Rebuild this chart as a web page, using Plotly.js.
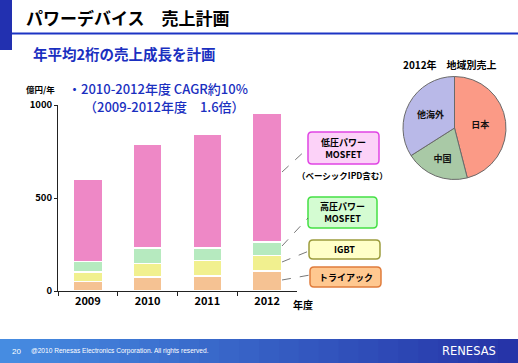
<!DOCTYPE html>
<html><head><meta charset="utf-8">
<script src="https://cdn.plot.ly/plotly-3.0.1.min.js"></script>
<style>html,body{margin:0;padding:0;background:#fff}#c{width:518px;height:363px}</style>
</head><body><div id="c"></div>
<script>
const years = ['2009', '2010', '2011', '2012'];
const triac = [50, 76, 81, 108];
const igbt = [53, 72, 83, 83];
const hvMosfet = [55, 83, 68, 72];
const lvMosfet = [445, 556, 613, 692];
const seriesNames = ['トライアック', 'IGBT', '高圧パワーMOSFET', '低圧パワーMOSFET'];
const regions = ['日本', '中国', '他海外'];
const regionShare = [46, 20, 34];
const yTicks = [0, 500, 1000];

const JP = '"Noto Sans CJK JP", "Noto Sans", sans-serif';
const W = 518, H = 363;
const px = x => x / W, py = y => 1 - y / H;

const barColors = ['#f5c293', '#f1f08f', '#b6eabf', '#ee88c6'];
const series = [triac, igbt, hvMosfet, lvMosfet];
const traces = series.map((s, i) => ({
  type: 'bar', x: years, y: s, name: seriesNames[i],
  marker: {color: barColors[i], line: {color: '#ffffff', width: 1.5}},
  hoverinfo: 'skip', showlegend: false
}));
traces.push({
  type: 'pie', labels: regions, values: regionShare, sort: false,
  direction: 'clockwise', rotation: 0,
  marker: {colors: ['#fb9a86', '#a9c9a6', '#b9b9e8'], line: {color: '#6a6a6a', width: 1}},
  textinfo: 'label', textposition: 'inside', insidetextorientation: 'horizontal',
  textfont: {family: JP, size: 9, color: '#111', weight: 'bold'},
  domain: {x: [px(403), px(506)], y: [py(179.5), py(76.5)]},
  showlegend: false, hoverinfo: 'skip'
});

const shapes = [];
shapes.push({type: 'rect', xref: 'paper', yref: 'paper', x0: 0, x1: px(12), y0: py(50), y1: 1, fillcolor: '#2230b0', line: {width: 0}, layer: 'below'});
shapes.push({type: 'line', xref: 'paper', yref: 'paper', x0: px(12), x1: 1, y0: py(33.5), y1: py(33.5), line: {color: '#1c34c4', width: 2}});
const N = 26;
for (let i = 0; i < N; i++) {
  const t = i / (N - 1);
  const r = Math.round(70 + (38 - 70) * t), g = Math.round(140 + (52 - 140) * t), b = Math.round(225 + (168 - 225) * t);
  shapes.push({type: 'rect', xref: 'paper', yref: 'paper', x0: i / N, x1: (i + 1) / N + 0.002, y0: 0, y1: py(339), fillcolor: `rgb(${r},${g},${b})`, line: {width: 0}, layer: 'below'});
}
const boxes = [
  {x0: 308, x1: 379, y0: 132, y1: 164, fill: '#fcd2f8', line: '#e044e4'},
  {x0: 308, x1: 377, y0: 197, y1: 228, fill: '#d4fcd2', line: '#44e044'},
  {x0: 309, x1: 380, y0: 240, y1: 259, fill: '#ffffc8', line: '#9c9c3c'},
  {x0: 310, x1: 381, y0: 267, y1: 287, fill: '#ffc890', line: '#e07c3c'}
];
boxes.forEach(b => {
  const r = 4;
  const X0 = b.x0, X1 = b.x1, Y0 = b.y0, Y1 = b.y1;
  const path = `M ${X0 + r} ${Y0} L ${X1 - r} ${Y0} Q ${X1} ${Y0} ${X1} ${Y0 + r} L ${X1} ${Y1 - r} Q ${X1} ${Y1} ${X1 - r} ${Y1} L ${X0 + r} ${Y1} Q ${X0} ${Y1} ${X0} ${Y1 - r} L ${X0} ${Y0 + r} Q ${X0} ${Y0} ${X0 + r} ${Y0} Z`;
  const conv = path.replace(/(-?\d+(\.\d+)?) (-?\d+(\.\d+)?)/g, (m, a, _1, c) => `${px(+a).toFixed(5)},${py(+c).toFixed(5)}`);
  shapes.push({type: 'path', xref: 'paper', yref: 'paper', path: conv, fillcolor: b.fill, line: {color: b.line, width: 1.5}});
});
const leaders = [[282, 172, 307, 149], [282, 246, 308, 218], [282, 262, 309, 251], [282, 280, 310, 275]];
leaders.forEach(l => shapes.push({type: 'line', xref: 'paper', yref: 'paper', x0: px(l[0]), y0: py(l[1]), x1: px(l[2]), y1: py(l[3]), line: {color: '#555', width: 0.8, dash: 'dash'}}));

const ann = (text, x, y, size, color, opts = {}) => Object.assign({
  text, xref: 'paper', yref: 'paper', x: px(x), y: py(y), xanchor: 'left', yanchor: 'middle',
  showarrow: false, font: {family: JP, size, color, weight: 'bold'}
}, opts);

const annotations = [
  ann('パワーデバイス　売上計画', 24, 17, 17, '#000'),
  ann('年平均2桁の売上成長を計画', 31, 54, 14.5, '#1a2fc0'),
  ann('2012年　地域別売上', 401, 64, 10, '#000'),
  ann('億円/年', 24, 89, 8.5, '#000'),
  ann('・2010-2012年度 CAGR約10%', 66, 88.5, 13, '#1a2fc0', {font: {family: JP, size: 13, color: '#1a2fc0', weight: 500}}),
  ann('（2009-2012年度　1.6倍）', 82, 106.5, 13, '#1a2fc0', {font: {family: JP, size: 13, color: '#1a2fc0', weight: 500}}),
  ann('低圧パワー<br>MOSFET', 343.5, 148, 9, '#000', {xanchor: 'center'}),
  ann('（ベーシックIPD含む）', 342, 175, 8.5, '#000', {xanchor: 'center'}),
  ann('高圧パワー<br>MOSFET', 342.5, 212.5, 9, '#000', {xanchor: 'center'}),
  ann('IGBT', 344.5, 249.5, 9, '#000', {xanchor: 'center'}),
  ann('トライアック', 345.5, 277, 9, '#000', {xanchor: 'center'}),
  ann('年度', 291, 304, 10, '#000'),
  ann('20', 10, 351, 8, '#fff', {font: {family: 'Liberation Sans', size: 8, color: '#fff'}}),
  ann('@2010 Renesas Electronics Corporation. All rights reserved.', 29, 351, 6.5, '#fff', {font: {family: 'Liberation Sans', size: 6.6, color: '#fff'}}),
  ann('RENESAS', 440, 351, 12, '#fff', {font: {family: 'DejaVu Sans', size: 11.5, color: '#fff'}})
];

const layout = {
  width: W, height: H, margin: {l: 0, r: 0, t: 0, b: 0},
  paper_bgcolor: '#ffffff', plot_bgcolor: 'rgba(0,0,0,0)',
  barmode: 'stack', bargap: 0.515,
  xaxis: {
    domain: [px(58), px(297)], type: 'category', range: [-0.5, 3.5],
    showline: true, linecolor: '#222', linewidth: 1,
    ticks: 'outside', tickson: 'boundaries', ticklen: 4, tickcolor: '#222',
    tickfont: {family: JP, size: 11, color: '#000', weight: 'bold'},
    showgrid: false, zeroline: false, fixedrange: true
  },
  yaxis: {
    domain: [py(291), py(105)], range: [0, 1000],
    tickvals: yTicks, ticktext: yTicks.map(String),
    showline: true, linecolor: '#222', linewidth: 1,
    ticks: 'outside', ticklen: 3, tickcolor: '#222',
    tickfont: {family: JP, size: 9.5, color: '#000', weight: 'bold'},
    showgrid: false, zeroline: false, fixedrange: true
  },
  shapes, annotations
};
Plotly.newPlot('c', traces, layout, {staticPlot: true, displayModeBar: false});
</script></body></html>
